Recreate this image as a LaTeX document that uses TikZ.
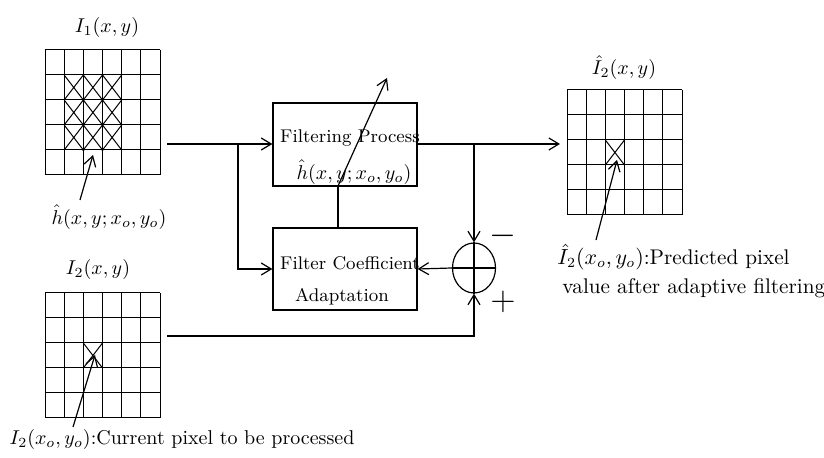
\documentclass[tikz,border=0pt]{standalone}
\usetikzlibrary{arrows.meta,shapes.geometric}
\newcommand\mypixgrid[2]{%
  \foreach \i in {0,...,6} \draw[gridline] ({#1+\i*115/6},#2) -- ++(0,125);
  \foreach \j in {0,...,5} \draw[gridline] (#1,{#2+\j*25}) -- ++(115,0);
}
\newcommand\mycellx[2]{%
  \draw[gridline] (#1,#2) -- ++(115/6,25) ++(-115/6,0) -- ++(115/6,-25);
}
\begin{document}
\begin{tikzpicture}[x=0.5pt,y=-0.5pt,
  every node/.style={font=\fontsize{10}{12}\selectfont, inner sep=0pt},
  boxtext/.style={font=\fontsize{9.2}{11}\selectfont},
  righttext/.style={font=\fontsize{10.6}{12}\selectfont, anchor=west},
  gridline/.style={line width=0.5pt},
  box/.style={draw, line width=0.6pt, minimum width=72pt, minimum height=41.5pt},
  conn/.style={line width=0.6pt},
  arr/.style={conn, -{Straight Barb[length=5pt,width=6pt]}},
  sym/.style={font=\fontsize{19}{20}\selectfont}]
\useasboundingbox (0,0) rectangle (824,458);
% grids
\mypixgrid{45}{50}
\mypixgrid{45}{293}
\mypixgrid{567}{90}
% filter window in grid 1
\foreach \i in {2,3,4} \foreach \j in {1,2,3} \mycellx{{45+\i*115/6-115/6}}{{50+\j*25}};
\foreach \x in {83.33,102.5} \foreach \y in {101,125,150} \fill (\x,\y) circle (1.2);
% current pixel marks
\mycellx{83.33}{343}
\mycellx{605.33}{140}
% boxes
\node[box] (fp) at (345,144.5) {};
\node[boxtext] (fpt1) at (350,138) {Filtering Process};
\node (fpt2) at (354,172) {$\hat{h}(x,y;x_o,y_o)$};
\node[box, minimum height=41pt] (fca) at (345,269) {};
\node[boxtext] (fct1) at (350,263) {Filter Coefficient};
\node[boxtext] (fct2) at (342,297) {Adaptation};
\node[draw, ellipse, line width=0.6pt, minimum width=21.5pt, minimum height=25pt] (sum) at (474,268) {};
% labels
\node (l1) at (107,28) {$I_1(x,y)$};
\node (lh) at (109,217) {$\hat{h}(x,y;x_o,y_o)$};
\node (l2) at (98,270) {$I_2(x,y)$};
\node (l3) at (624,68) {$\hat{I}_2(x,y)$};
\node (lc) at (182,440) {$I_2(x_o,y_o)$:Current pixel to be processed};
\node[righttext] (lp1) at (557,257) {$\hat{I}_2(x_o,y_o)$:Predicted pixel};
\node[righttext] (lp2) at (562,288) {value after adaptive filtering};
\node[sym] (minus) at (503,236) {$-$};
\node[sym] (plus) at (503,302) {$+$};
% coordinates
\coordinate (g1out) at (167,144);
\coordinate (br1) at (238,144);
\coordinate (g3in) at (560,144);
\coordinate (br2) at (474,144);
\coordinate (g2out) at (167,336);
\coordinate (fpb) at (338,186);
\coordinate (fctop) at (338,228);
\coordinate (tip) at (387,78);
\coordinate (s1) at (80,200);
\coordinate (t1) at (93,155);
\coordinate (s2) at (73,427);
\coordinate (t2) at (95,355);
\coordinate (s3) at (596,240);
\coordinate (t3) at (617,160);
% connectors
\draw[arr] (g1out) -- (fp.west |- g1out);
\draw[arr] (br1) |- (fca.west);
\draw[arr] (fp.east |- g1out) -- (g3in);
\draw[arr] (br2) -- (sum.north);
\draw[arr] (g2out) -| (sum.south);
\draw[arr] (sum.west) -- (fca.east);
\draw[conn] (sum.north) -- (sum.south);
\draw[conn] (sum.west) -- (sum.east);
\draw[conn] (fctop) -- (fpb);
\draw[arr] (fpb) -- (tip);
\draw[arr] (s1) -- (t1);
\draw[arr] (s2) -- (t2);
\draw[arr] (s3) -- (t3);
\end{tikzpicture}
\end{document}
